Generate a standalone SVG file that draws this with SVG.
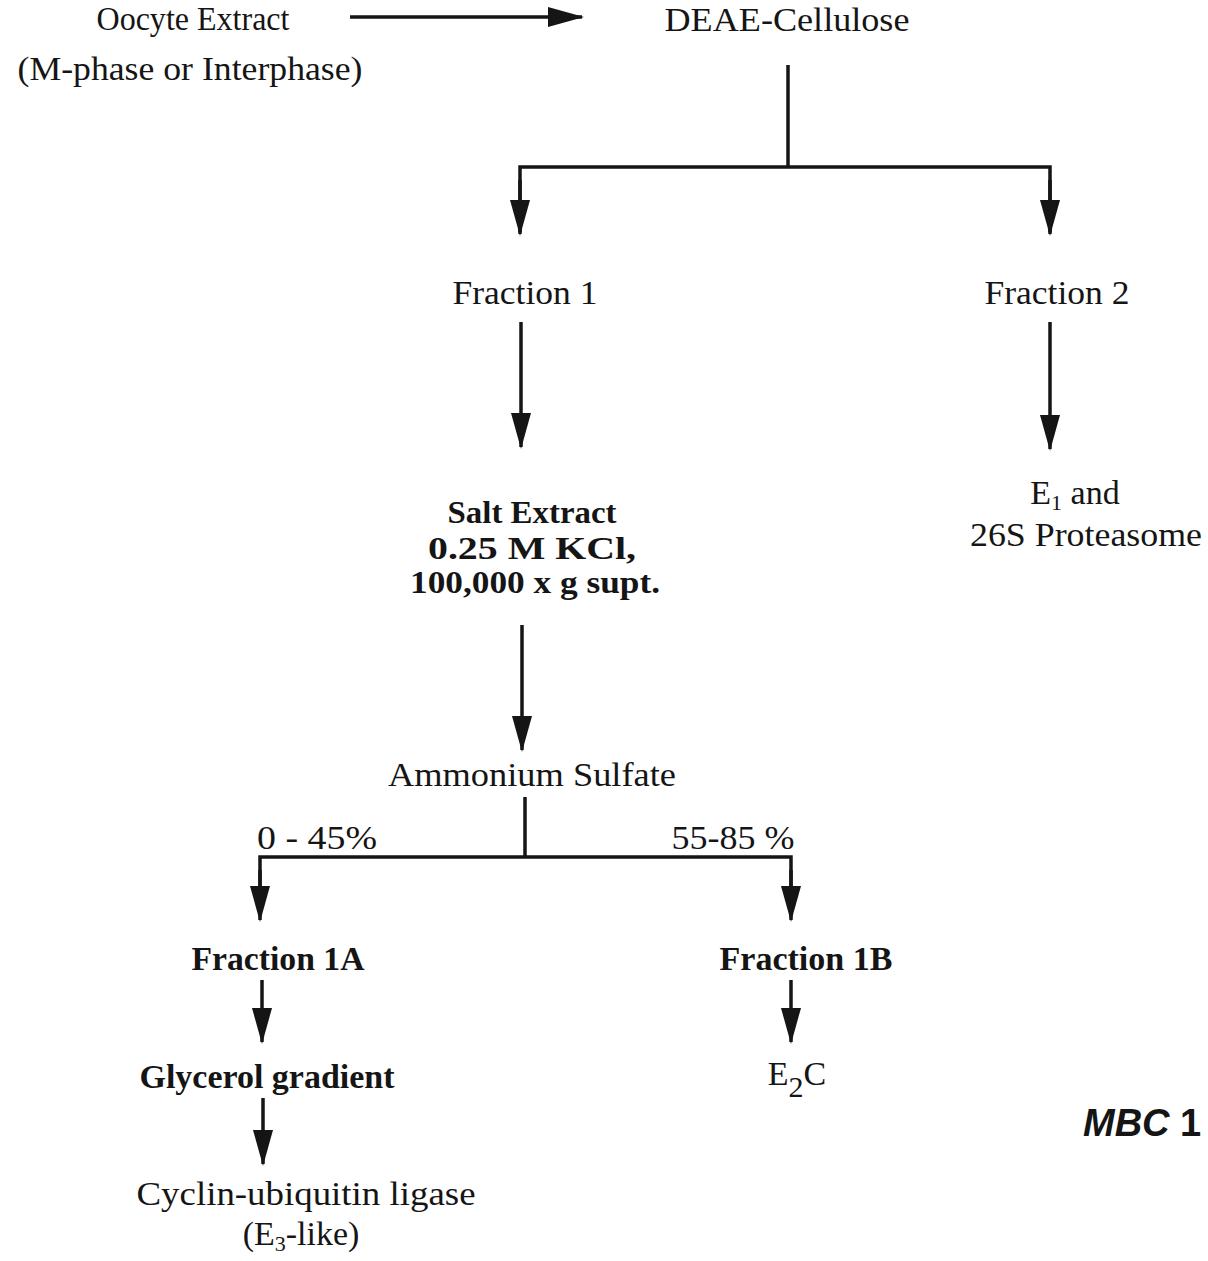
<svg xmlns="http://www.w3.org/2000/svg" width="1208" height="1261" viewBox="0 0 1208 1261">
<style>
text{font-family:"Liberation Serif","Times New Roman",serif;font-size:34px;fill:#151515;text-anchor:middle}
.b{font-weight:bold}
.s{font-size:31px}
.sub{font-size:22px}
.mbc{font-family:"Liberation Sans",Arial,sans-serif;font-weight:bold;font-size:38px;text-anchor:start}
.ln{stroke:#151515;stroke-width:3.5;fill:none}
.ar{stroke:#151515;stroke-width:3.5;fill:none;marker-end:url(#ah)}
</style>
<defs>
<marker id="ah" markerUnits="userSpaceOnUse" markerWidth="36" markerHeight="20" refX="34" refY="10" orient="auto" viewBox="0 0 36 20">
<path d="M0,0 L36,10 L0,20 Z" fill="#151515"/>
</marker>
</defs>
<rect width="1208" height="1261" fill="#ffffff"/>
<g id="connectors">
<line class="ar" x1="350" y1="17" x2="582" y2="17"/>
<line class="ln" x1="788" y1="65" x2="788" y2="167"/>
<polyline class="ln" points="520,232 520,167 1050,167 1050,232"/>
<line class="ar" x1="520" y1="180" x2="520" y2="234"/>
<line class="ar" x1="1050" y1="180" x2="1050" y2="234"/>
<line class="ar" x1="521" y1="322" x2="521" y2="447"/>
<line class="ar" x1="1050" y1="322" x2="1050" y2="449"/>
<line class="ar" x1="522" y1="625" x2="522" y2="750"/>
<line class="ln" x1="525" y1="797" x2="525" y2="857"/>
<polyline class="ln" points="260,900 260,857 791,857 791,900"/>
<line class="ar" x1="260" y1="870" x2="260" y2="920"/>
<line class="ar" x1="791" y1="870" x2="791" y2="920"/>
<line class="ar" x1="262" y1="980" x2="262" y2="1042"/>
<line class="ar" x1="791" y1="980" x2="791" y2="1042"/>
<line class="ar" x1="263" y1="1098" x2="263" y2="1164"/>
</g>
<g id="oocyte"><text x="193" y="30" textLength="193" lengthAdjust="spacingAndGlyphs">Oocyte Extract</text>
<text x="190" y="80" textLength="345" lengthAdjust="spacingAndGlyphs">(M-phase or Interphase)</text></g>
<g id="deae"><text x="787" y="31" textLength="245" lengthAdjust="spacingAndGlyphs">DEAE-Cellulose</text></g>
<g id="fraction1"><text x="525" y="304" textLength="145" lengthAdjust="spacingAndGlyphs">Fraction 1</text></g>
<g id="fraction2"><text x="1057" y="304" textLength="145" lengthAdjust="spacingAndGlyphs">Fraction 2</text></g>
<g id="salt">
<text class="b s" x="532" y="523" textLength="169" lengthAdjust="spacingAndGlyphs">Salt Extract</text>
<text class="b s" x="532" y="559" textLength="208" lengthAdjust="spacingAndGlyphs">0.25 M KCl,</text>
<text class="b s" x="535" y="593" textLength="250" lengthAdjust="spacingAndGlyphs">100,000 x g supt.</text>
</g>
<g id="e1"><text x="1075" y="504">E<tspan class="sub" dy="6">1</tspan><tspan dy="-6"> and</tspan></text>
<text x="1086" y="546" textLength="232" lengthAdjust="spacingAndGlyphs">26S Proteasome</text></g>
<g id="ammonium"><text x="532" y="786" textLength="288" lengthAdjust="spacingAndGlyphs">Ammonium Sulfate</text></g>
<g id="pct"><text x="317" y="849" textLength="120" lengthAdjust="spacingAndGlyphs">0 - 45%</text>
<text x="733" y="849" textLength="123" lengthAdjust="spacingAndGlyphs">55-85 %</text></g>
<g id="fraction1a"><text class="b" x="278" y="970" textLength="173" lengthAdjust="spacingAndGlyphs">Fraction 1A</text></g>
<g id="fraction1b"><text class="b" x="806" y="970" textLength="173" lengthAdjust="spacingAndGlyphs">Fraction 1B</text></g>
<g id="glycerol"><text class="b" x="267" y="1088" textLength="255" lengthAdjust="spacingAndGlyphs">Glycerol gradient</text></g>
<g id="e2c"><text x="797" y="1085">E<tspan font-size="30" dy="12">2</tspan><tspan dy="-12">C</tspan></text></g>
<g id="ligase"><text x="306" y="1205" textLength="339" lengthAdjust="spacingAndGlyphs">Cyclin-ubiquitin ligase</text>
<text x="301" y="1245">(E<tspan class="sub" dy="6">3</tspan><tspan dy="-6">-like)</tspan></text></g>
<g id="mbc"><text class="mbc" x="1083" y="1136"><tspan font-style="italic">MBC</tspan> 1</text></g>
</svg>
